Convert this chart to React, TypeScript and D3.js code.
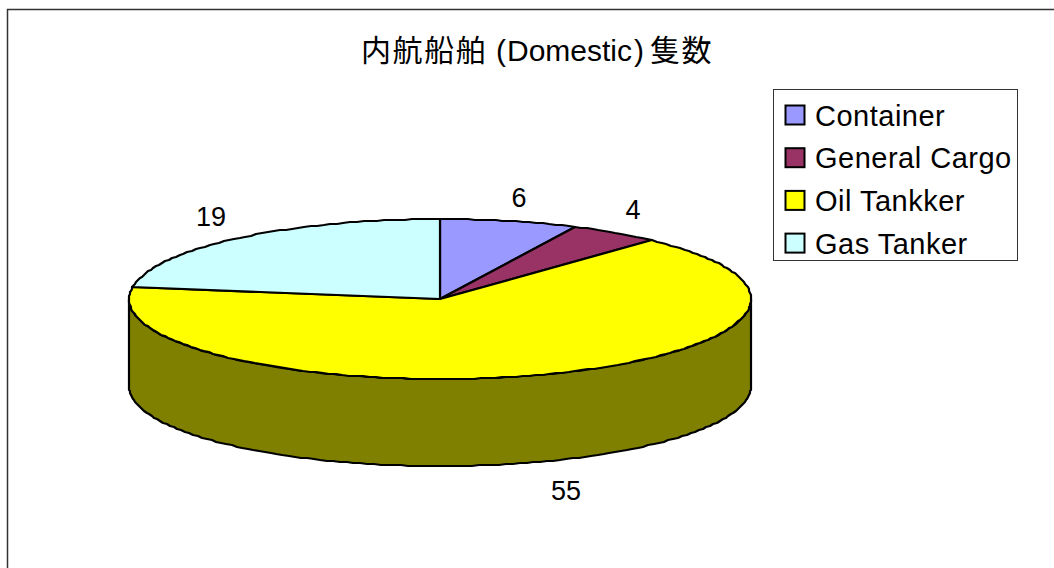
import React from 'react';
import * as d3 from 'd3';

const categories = ['Container', 'General Cargo', 'Oil Tankker', 'Gas Tanker'];
const values = [6, 4, 55, 19];
const colors = ['#9999ff', '#993366', '#ffff00', '#ccffff'];
const sideColors = ['#4c4c80', '#4c1933', '#808000', '#668080'];
const titleParts: [string, number][] = [['内航船舶', 361], ['(', 496], ['Domestic', 507], [')', 634], ['隻数', 650]];
const labelPositions: [number, number][] = [[519, 207], [633, 219], [566, 500], [211, 226]];

const W = 1054, H = 568;
const cx = 440, cy = 299, rx = 311, ry = 80, depth = 87;
const FONT = '"Liberation Sans", "Noto Sans CJK JP", sans-serif';

const pie = d3.pie<number>().sort(null).startAngle(0).endAngle(2 * Math.PI);
const arcs = pie(values);

// Maps a clockwise-from-top angle onto the flattened ellipse, snapped to device pixels.
const xs = d3.scaleLinear().domain([-1, 1]).range([cx - rx, cx + rx]);
const ys = d3.scaleLinear().domain([-1, 1]).range([cy - ry, cy + ry]);
const pt = (a: number, dy = 0): [number, number] => [Math.round(xs(Math.sin(a))), Math.round(ys(-Math.cos(a))) + dy];
const line = d3.line();
const STEP = (1.3 * Math.PI) / 180;
const samples = (a0: number, a1: number, dy = 0) => {
  const n = Math.max(2, Math.ceil(Math.abs(a1 - a0) / STEP));
  return d3.range(0, n + 1).map((i) => pt(a0 + ((a1 - a0) * i) / n, dy));
};

function topPath(a0: number, a1: number) {
  return line([[cx, cy], ...samples(a0, a1)])! + 'Z';
}
function sidePath(a0: number, a1: number) {
  const from = Math.max(a0, Math.PI / 2);
  const to = Math.min(a1, (3 * Math.PI) / 2);
  if (to <= from) return null;
  return line([...samples(from, to), ...samples(to, from, depth)])! + 'Z';
}

export default function App() {
  return (
    <svg width={W} height={H} style={{ position: 'absolute', left: 0, top: 0, background: '#fff' }} fontFamily={FONT}>
      <path d={`M7.5 ${H}V9.5H${W}`} fill="none" stroke="#333" strokeWidth={1.5} />
      <text y={61} fontSize={30} fill="#000">
        {titleParts.map(([t, x]) => (
          <tspan key={t} x={x} letterSpacing={/[A-Za-z()]/.test(t) ? 0 : 1.6}>{t}</tspan>
        ))}
      </text>

      {arcs.map((d, i) => {
        const p = sidePath(d.startAngle, d.endAngle);
        return p ? <path key={i} d={p} fill={sideColors[i]} stroke="#000" strokeWidth={2.2} strokeLinejoin="round" /> : null;
      })}
      {arcs.map((d, i) => (
        <path key={i} d={topPath(d.startAngle, d.endAngle)} fill={colors[i]} stroke="#000" strokeWidth={2.2} strokeLinejoin="round" />
      ))}
      {values.map((v, i) => (
        <text key={i} x={labelPositions[i][0]} y={labelPositions[i][1]} textAnchor="middle" fontSize={27} fill="#000">{v}</text>
      ))}

      <rect x={773.5} y={89.5} width={244} height={171} fill="#fff" stroke="#333" strokeWidth={1} />
      {categories.map((c, i) => (
        <g key={c}>
          <rect x={785.5} y={105.5 + i * 42.7} width={19} height={19} fill={colors[i]} stroke="#000" strokeWidth={2} />
          <text x={815} y={125.5 + i * 42.7} fontSize={29} letterSpacing={0.5} fill="#000">{c}</text>
        </g>
      ))}
    </svg>
  );
}
